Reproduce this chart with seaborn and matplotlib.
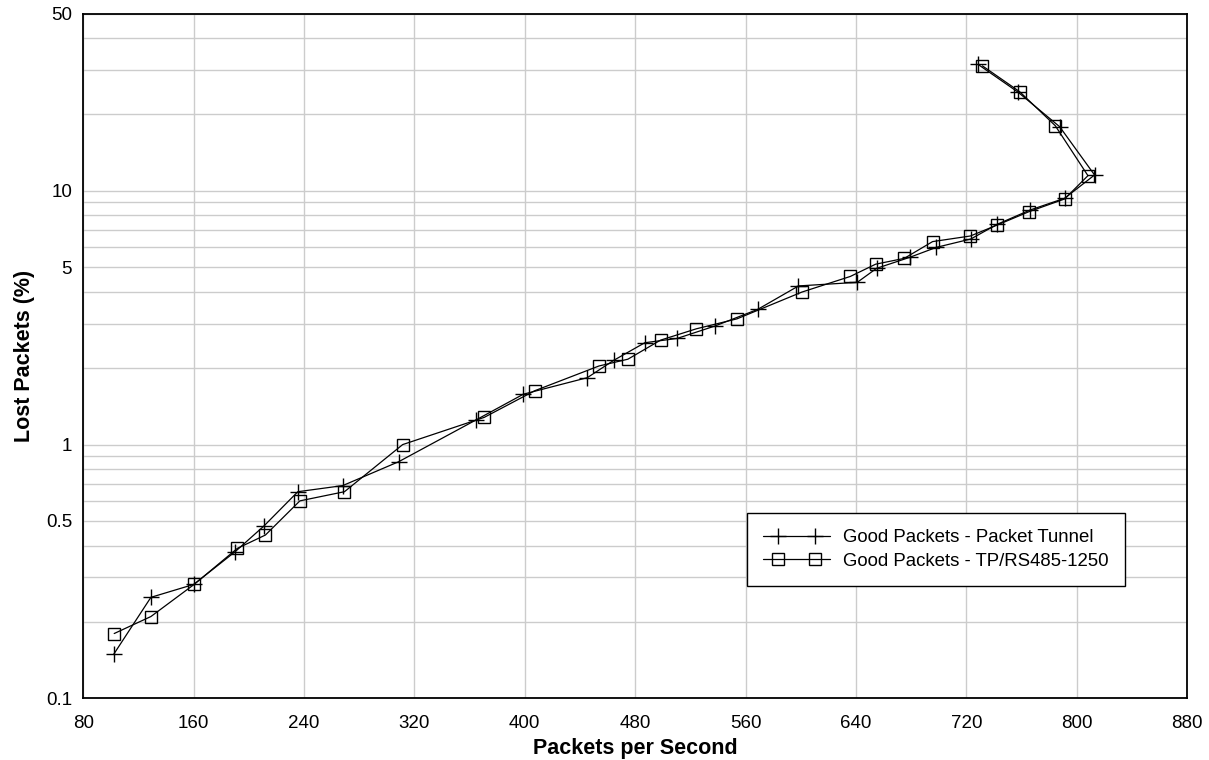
import numpy as np
import pandas as pd
import seaborn as sns
import matplotlib.pyplot as plt
from matplotlib.legend_handler import HandlerLine2DCompound
from matplotlib.ticker import FixedLocator, FixedFormatter, LogLocator, NullFormatter

# Data
tunnel_pps = [102, 129, 160, 190, 211, 235.5, 268, 308.6, 364.6, 399, 445.3, 464.6,
              487, 510.4, 537.6, 568.8, 598.4, 641, 655, 679, 698.4, 723.3, 742.6,
              766.4, 791.3, 813, 787.7, 757.5, 728.6]
tunnel_lost = [0.149, 0.25, 0.281, 0.378, 0.478, 0.652, 0.689, 0.856, 1.25, 1.58, 1.835,
               2.15, 2.52, 2.62, 2.93, 3.41, 4.22, 4.36, 4.95, 5.47, 5.99, 6.46, 7.39,
               8.41, 9.35, 11.55, 17.9, 24.5, 31.5]

rs485_pps = [102.4, 129, 160.3, 191.7, 212, 237, 269.3, 311.5, 370.6, 407.2, 453.7,
             474.7, 498.4, 524.4, 553.8, 600.8, 636, 654.3, 675.1, 695.6, 723, 742.6,
             765.5, 791.3, 808.2, 784.5, 758.7, 731.7]
rs485_lost = [0.180, 0.21, 0.281, 0.39, 0.44, 0.60, 0.652, 1.0, 1.28, 1.63, 2.04, 2.17,
              2.58, 2.86, 3.13, 3.99, 4.6, 5.14, 5.42, 6.31, 6.64, 7.34, 8.28, 9.29,
              11.48, 18.07, 24.6, 31.1]

x_ticks = [80, 160, 240, 320, 400, 480, 560, 640, 720, 800, 880]
y_ticks = [0.1, 0.5, 1, 5, 10, 50]
y_tick_labels = ["0.1", "0.5", "1", "5", "10", "50"]

labels = ["Good Packets - Packet Tunnel", "Good Packets - TP/RS485-1250"]

tunnel = pd.DataFrame({"pps": tunnel_pps, "lost": tunnel_lost})
rs485 = pd.DataFrame({"pps": rs485_pps, "lost": rs485_lost})

sns.set_style("white")
plt.rcParams['font.family'] = ['Liberation Sans', 'DejaVu Sans']


class LongLineHandler(HandlerLine2DCompound):
    # line runs past the two markers, like the original legend
    def get_xdata(self, legend, xdescent, ydescent, width, height, fontsize):
        pad = 0.82 * fontsize
        xdata = np.array([-xdescent, -xdescent + width])
        xdata_marker = np.array([-xdescent + pad, -xdescent + width - pad])
        return xdata, xdata_marker


fig = plt.figure(figsize=(12.09, 7.6), dpi=100)
ax = fig.add_axes([0.0689, 0.0812, 0.9129, 0.901])

sns.lineplot(data=tunnel, x="pps", y="lost", sort=False, estimator=None, ax=ax,
             color="black", linewidth=0.9, marker="+", markersize=11,
             markeredgecolor="black", markeredgewidth=1.0, label=labels[0])
sns.lineplot(data=rs485, x="pps", y="lost", sort=False, estimator=None, ax=ax,
             color="black", linewidth=0.9, marker="s", markersize=9,
             markerfacecolor="none", markeredgecolor="black",
             markeredgewidth=1.0, label=labels[1])

ax.set_yscale("log")
ax.set_xlim(80, 880)
ax.set_ylim(0.1, 50)
ax.set_xticks(x_ticks)
ax.yaxis.set_major_locator(FixedLocator(y_ticks))
ax.yaxis.set_major_formatter(FixedFormatter(y_tick_labels))
ax.yaxis.set_minor_locator(LogLocator(base=10, subs=np.arange(2, 10)))
ax.yaxis.set_minor_formatter(NullFormatter())

ax.grid(True, which="both", color="#cccccc", linewidth=1.0)
ax.set_axisbelow(True)
ax.tick_params(axis="both", which="both", length=0, labelsize=13.5, labelcolor="black")
ax.tick_params(axis="x", pad=12)
ax.tick_params(axis="y", pad=8)
for s in ax.spines.values():
    s.set_color("black")
    s.set_linewidth(1.3)

ax.set_xlabel("Packets per Second", fontsize=15.5, fontweight="bold", labelpad=4, color="black")
ax.set_ylabel("Lost Packets (%)", fontsize=15.5, fontweight="bold", labelpad=8, color="black")

handles, _ = ax.get_legend_handles_labels()
leg = ax.legend(handles, labels, loc="upper left", bbox_to_anchor=(0.6016, 0.2701),
                borderaxespad=0, fontsize=13.4, fancybox=False, framealpha=1,
                edgecolor="black", handlelength=3.6, handletextpad=0.7,
                labelspacing=0.35, borderpad=0.85, numpoints=2,
                handler_map={h: LongLineHandler() for h in handles})
leg.get_frame().set_linewidth(1.0)
for t in leg.get_texts():
    t.set_color("black")

plt.savefig("out.png", dpi=100)
